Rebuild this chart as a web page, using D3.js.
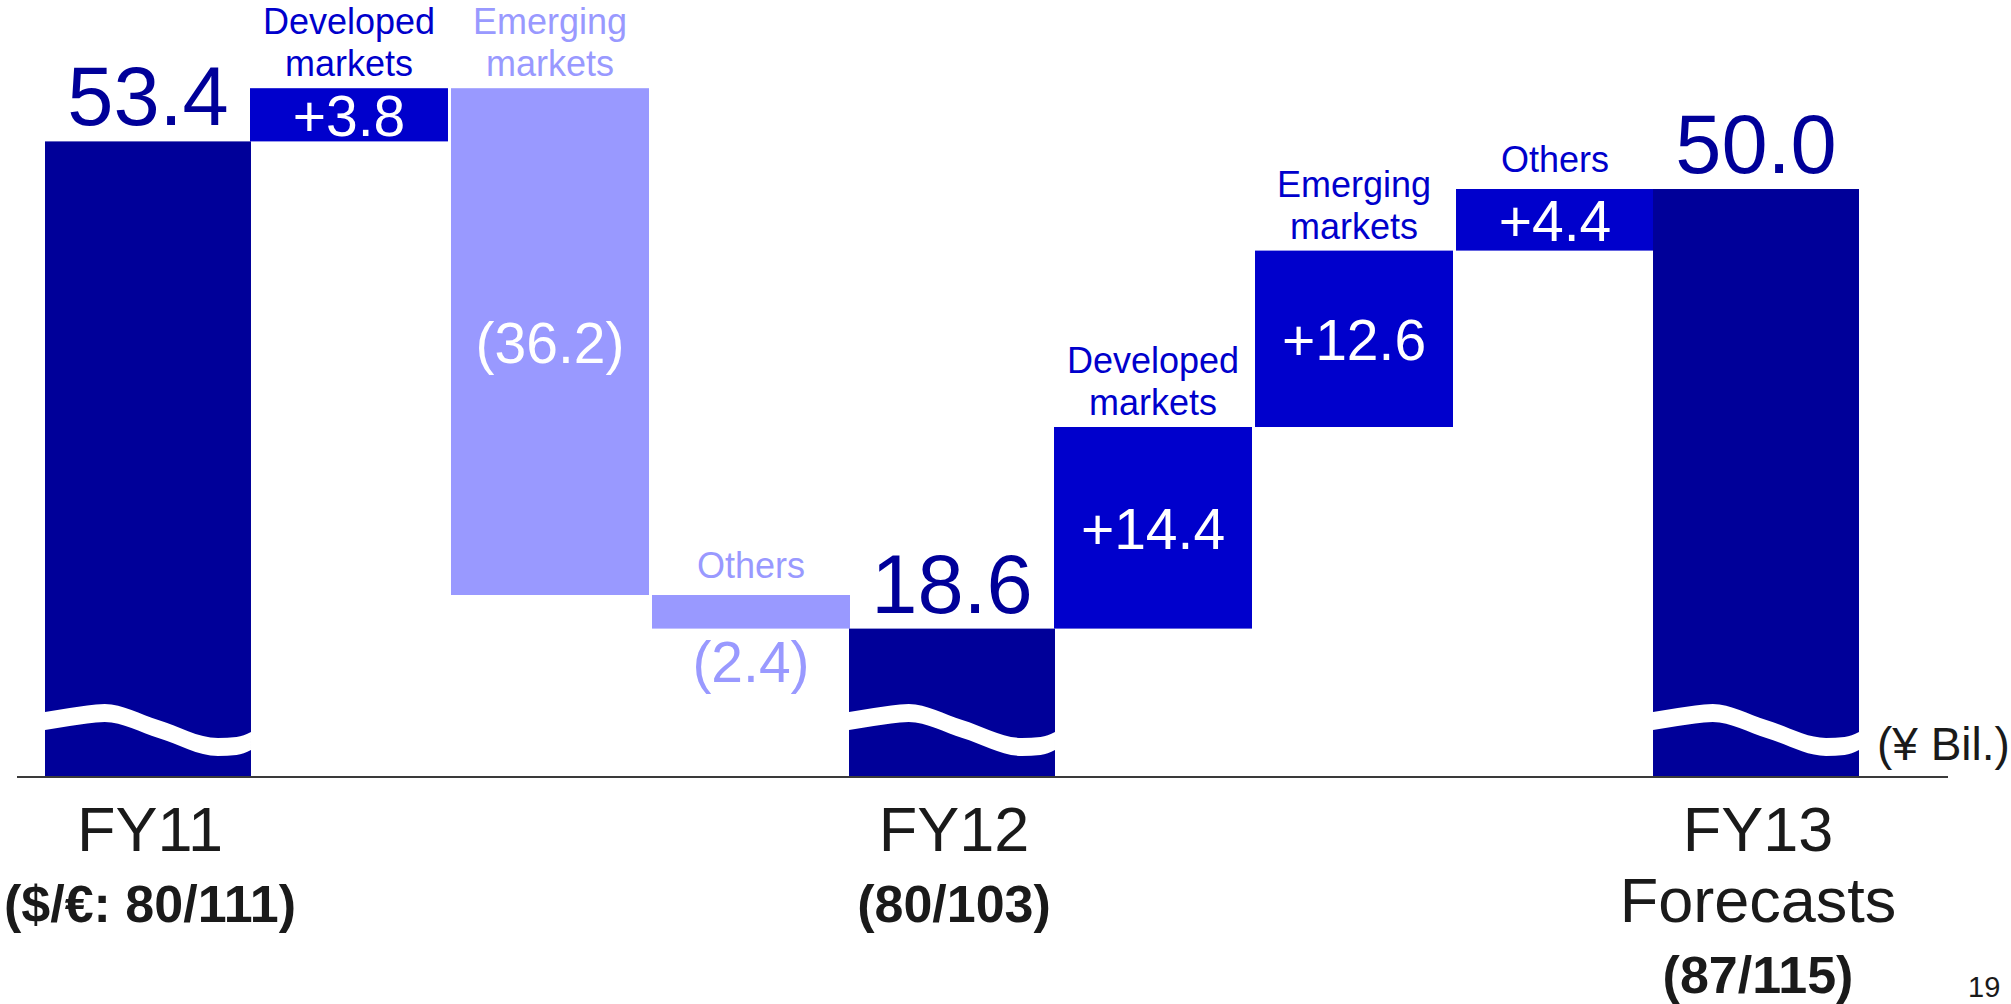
<!DOCTYPE html>
<html>
<head>
<meta charset="utf-8">
<script src="https://cdn.jsdelivr.net/npm/d3@7"></script>
<style>
  html, body { margin: 0; padding: 0; background: #ffffff; }
  svg { display: block; }
  text { font-family: "Liberation Sans", Arial, Helvetica, sans-serif; }
</style>
</head>
<body>
<svg id="chart" width="2011" height="1004"></svg>
<script>
// ---------------- data ----------------
const categories = ["FY11", "Developed markets", "Emerging markets", "Others", "FY12",
                    "Developed markets", "Emerging markets", "Others", "FY13"];
const kinds = ["total", "inc", "dec", "dec", "total", "inc", "inc", "inc", "total"];
const values = [53.4, 3.8, -36.2, -2.4, 18.6, 14.4, 12.6, 4.4, 50.0];
const valueLabels = ["53.4", "+3.8", "(36.2)", "(2.4)", "18.6", "+14.4", "+12.6", "+4.4", "50.0"];
const periodLabels = [["FY11"], ["FY12"], ["FY13", "Forecasts"]];
const rateLabels = ["($/€: 80/111)", "(80/103)", "(87/115)"];
const unitLabel = "(¥ Bil.)";
const pageNumber = "19";

// ---------------- layout / style ----------------
const W = 2011, H = 1004;
const axisY = 777;
const colors = { total: "#000099", inc: "#0000CC", dec: "#9999FF" };

const svg = d3.select("#chart");
svg.append("rect").attr("width", W).attr("height", H).attr("fill", "#ffffff");

const idx = categories.map((_, i) => i);
const x = d3.scaleBand().domain(idx).range([49, 1855]).paddingInner(0.015).paddingOuter(0);
const y = d3.scaleLinear().domain([0, 60]).range([889, 49]);

// waterfall computation
let running = 0;
const rows = idx.map(i => {
  const k = kinds[i];
  let start, end;
  if (k === "total") { start = null; end = values[i]; running = values[i]; }
  else { start = running; end = running + values[i]; running = end; }
  return { i, cat: categories[i], kind: k, value: values[i], start, end, label: valueLabels[i] };
});

rows.forEach(r => {
  const extra = r.kind === "total" ? 4 : 0;
  r.x0 = x(r.i) - extra;
  r.w = x.bandwidth() + 2 * extra;
  if (r.kind === "total") { r.top = y(r.end); r.bottom = axisY; }
  else { r.top = y(Math.max(r.start, r.end)); r.bottom = y(Math.min(r.start, r.end)); }
  r.cx = r.x0 + r.w / 2;
});

// bars
svg.append("g").selectAll("rect").data(rows).join("rect")
  .attr("x", d => d.x0).attr("y", d => d.top)
  .attr("width", d => d.w).attr("height", d => d.bottom - d.top)
  .attr("fill", d => colors[d.kind]);

// axis-break waves on total bars (white band of constant vertical thickness)
const waveShape = [[0, -56], [0.12, -60], [0.29, -64], [0.55, -48], [0.84, -30], [0.93, -31], [1, -36]];
const halfBand = 9;
const waveArea = d3.area()
  .x(p => p[0]).y0(p => p[1]).y1(p => p[2])
  .curve(d3.curveMonotoneX);
svg.append("g").selectAll("path").data(rows.filter(r => r.kind === "total")).join("path")
  .attr("d", d => waveArea(waveShape.map(p => [d.x0 + p[0] * d.w, axisY + p[1] - halfBand, axisY + p[1] + halfBand])))
  .attr("fill", "#ffffff");

// baseline axis
svg.append("line").attr("x1", 17).attr("x2", 1948).attr("y1", axisY).attr("y2", axisY)
  .attr("stroke", "#3a3a3a").attr("stroke-width", 2);

// value labels
const vl = svg.append("g");
rows.forEach(r => {
  const t = vl.append("text").attr("x", r.cx).attr("text-anchor", "middle").text(r.label);
  if (r.kind === "total") {
    t.attr("y", r.top - 16).attr("font-size", 83).attr("fill", colors.total);
  } else {
    const h = r.bottom - r.top;
    if (r.kind === "dec" && h < 45) {
      t.attr("y", r.bottom + 53).attr("font-size", 57).attr("fill", colors.dec);
    } else {
      t.attr("y", (r.top + r.bottom) / 2 + 21).attr("font-size", 57).attr("fill", "#ffffff");
    }
  }
});

// category labels above delta bars
const cl = svg.append("g");
rows.filter(r => r.kind !== "total").forEach(r => {
  const words = r.cat.split(" ");
  const t = cl.append("text").attr("text-anchor", "middle").attr("font-size", 36)
    .attr("fill", colors[r.kind]);
  if (words.length === 1) {
    t.append("tspan").attr("x", r.cx).attr("y", r.top - 17).text(words[0]);
  } else {
    words.forEach((w, j) => {
      t.append("tspan").attr("x", r.cx).attr("y", r.top - 12 - (words.length - 1 - j) * 42).text(w);
    });
  }
});

// period labels under total bars
const pl = svg.append("g");
rows.filter(r => r.kind === "total").forEach((r, j) => {
  const lines = periodLabels[j];
  const cx = r.cx + 2;
  lines.forEach((s, k) => {
    pl.append("text").attr("x", cx).attr("y", 851 + k * 71)
      .attr("text-anchor", "middle").attr("font-size", 63).attr("fill", "#1a1a1a").text(s);
  });
  pl.append("text").attr("x", cx).attr("y", 851 + lines.length * 71)
    .attr("text-anchor", "middle").attr("font-size", 52).attr("font-weight", "bold")
    .attr("fill", "#1a1a1a").text(rateLabels[j]);
});

// unit label & page number
svg.append("text").attr("x", 1877).attr("y", 760).attr("font-size", 46)
  .attr("fill", "#1a1a1a").text(unitLabel);
svg.append("text").attr("x", 1968).attr("y", 997).attr("font-size", 29)
  .attr("fill", "#1a1a1a").text(pageNumber);
</script>
</body>
</html>
